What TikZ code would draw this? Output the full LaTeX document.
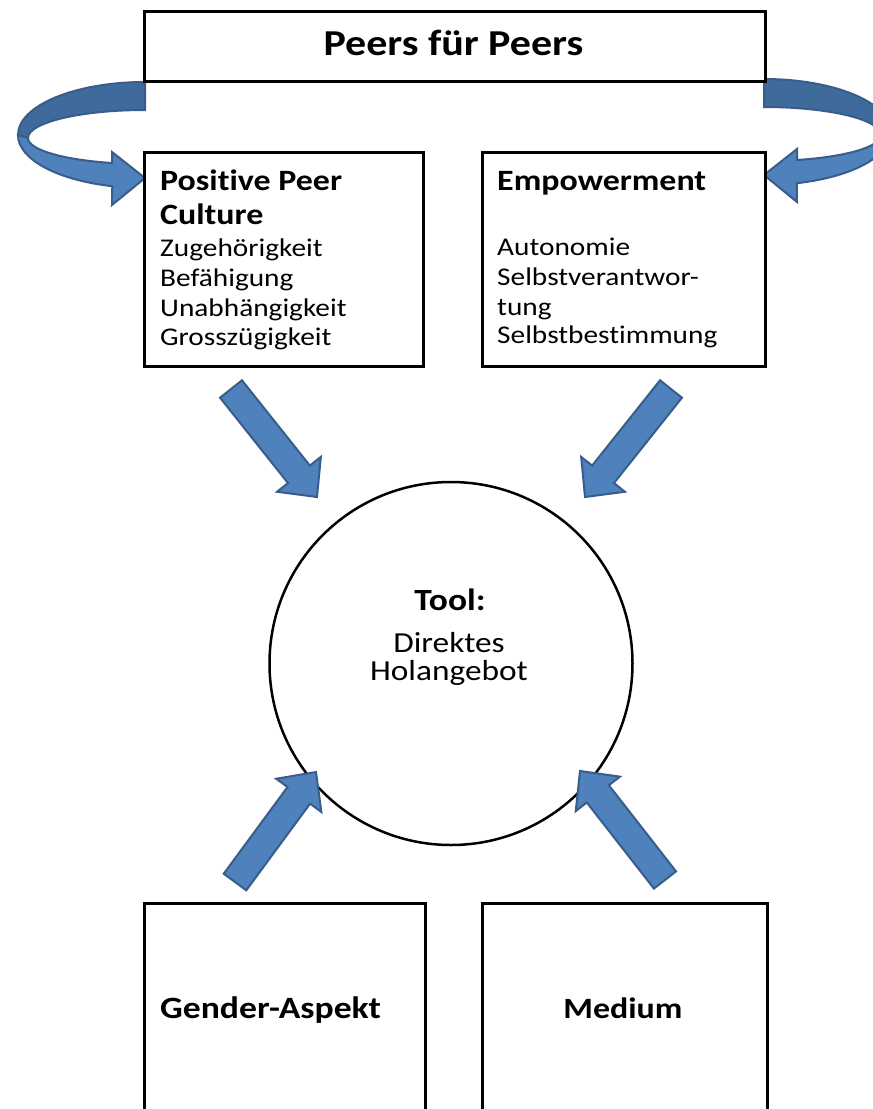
\documentclass[tikz,border=0pt]{standalone}
\usepackage{fontspec}
\setmainfont{Carlito}[FakeStretch=1.15, Ligatures=NoCommon]
\usetikzlibrary{calc}
\definecolor{arrowfill}{HTML}{4F81BD}
\definecolor{arrowline}{HTML}{385D8A}
\definecolor{arrowback}{HTML}{3F6A9C}
\newcommand{\fsz}[1]{\fontsize{#1}{#1}\selectfont}
\tikzset{
  box/.style={draw=black, line width=2.8pt, fill=white, inner sep=0pt, anchor=north west},
  blockarrow/.style={fill=arrowfill, draw=arrowline, line width=2pt, line join=miter},
  backband/.style={fill=arrowback, draw=arrowline, line width=2pt},
  txt/.style={inner sep=0pt, anchor=base west},
  ctxt/.style={inner sep=0pt, anchor=base},
  head/.style={font=\bfseries\fsz{29.5}},
  body/.style={font=\fsz{25.5}},
}
\newcommand{\blockarr}[3]{%
  \coordinate (#1-tail) at #2;
  \coordinate (#1-tip) at #3;
  \coordinate (#1-hb) at ($(#1-tip)!29pt!(#1-tail)$);
  \draw[blockarrow] ($(#1-tail)!14pt!90:(#1-tip)$) -- ($(#1-hb)!14pt!90:(#1-tip)$)
    -- ($(#1-hb)!28pt!90:(#1-tip)$) -- (#1-tip) -- ($(#1-hb)!28pt!-90:(#1-tip)$)
    -- ($(#1-hb)!14pt!-90:(#1-tip)$) -- ($(#1-tail)!14pt!-90:(#1-tip)$) -- cycle;}
\newcommand{\uturn}{%
  \draw[backband] (145,82) arc[start angle=90, end angle=180, x radius=127pt, y radius=53pt]
    -- (28,138) arc[start angle=180, end angle=90, x radius=117pt, y radius=28pt] -- cycle;
  \draw[blockarrow] (18,135) arc[start angle=180, end angle=255.07, x radius=127pt, y radius=53pt]
    -- (112,205) -- (145,178) -- (112,152) -- (112,163)
    arc[start angle=253.6, end angle=180, x radius=117pt, y radius=26pt] -- cycle;}
\begin{document}
\begin{tikzpicture}[x=1pt,y=-1pt]
\useasboundingbox (0,0) rectangle (873,1109);
\clip (0,0) rectangle (873,1109);
\fill[white] (0,0) rectangle (873,1109);
% curved arrows
\uturn
\begin{scope}[xshift=909pt, xscale=-1, yshift=3pt]
\uturn
\end{scope}
% boxes
\node[box, minimum width=621, minimum height=70] (title) at (143,10) {};
\node[box, minimum width=279, minimum height=214] (ppc) at (143,151) {};
\node[box, minimum width=283, minimum height=214] (emp) at (481,151) {};
\node[box, minimum width=281, minimum height=260] (gender) at (143,902) {};
\node[box, minimum width=285, minimum height=260] (medium) at (481,902) {};
\node[draw=black, line width=2.5pt, circle, minimum size=363, inner sep=0pt] (tool) at (451,663.5) {};
% block arrows
\blockarr{a1}{(231,389)}{(317,497)}
\blockarr{a2}{(671,389)}{(585,497)}
\blockarr{a3}{(235,882)}{(316,772)}
\blockarr{a4}{(665,880)}{(580,771)}
% texts
\node[ctxt, font=\bfseries\fsz{36.5}] (t-title) at (453.5,55) {Peers für Peers};
\node[txt, head] (p1) at (160,190) {Positive Peer};
\node[txt, head] (p2) at (160,224) {Culture};
\node[txt, body] (p3) at (160,256) {Zugehörigkeit};
\node[txt, body] (p4) at (160,286) {Befähigung};
\node[txt, body] (p5) at (160,316) {Unabhängigkeit};
\node[txt, body] (p6) at (160,345) {Grosszügigkeit};
\node[txt, head] (e1) at (497,190) {Empowerment};
\node[txt, body] (e2) at (497,255) {Autonomie};
\node[txt, body] (e3) at (497,285) {Selbstverantwor-};
\node[txt, body] (e4) at (497,315) {tung};
\node[txt, body] (e5) at (497,343) {Selbstbestimmung};
\node[ctxt, font=\bfseries\fsz{30.8}] (c1) at (450,610) {Tool:};
\node[ctxt, font=\fsz{29}] (c2) at (449,652) {Direktes};
\node[ctxt, font=\fsz{29}] (c3) at (449,680) {Holangebot};
\node[txt, font=\bfseries\fsz{31}] (g1) at (160,1018) {Gender-Aspekt};
\node[ctxt, font=\bfseries\fsz{29.5}] (m1) at (623,1018) {Medium};
\end{tikzpicture}
\end{document}
